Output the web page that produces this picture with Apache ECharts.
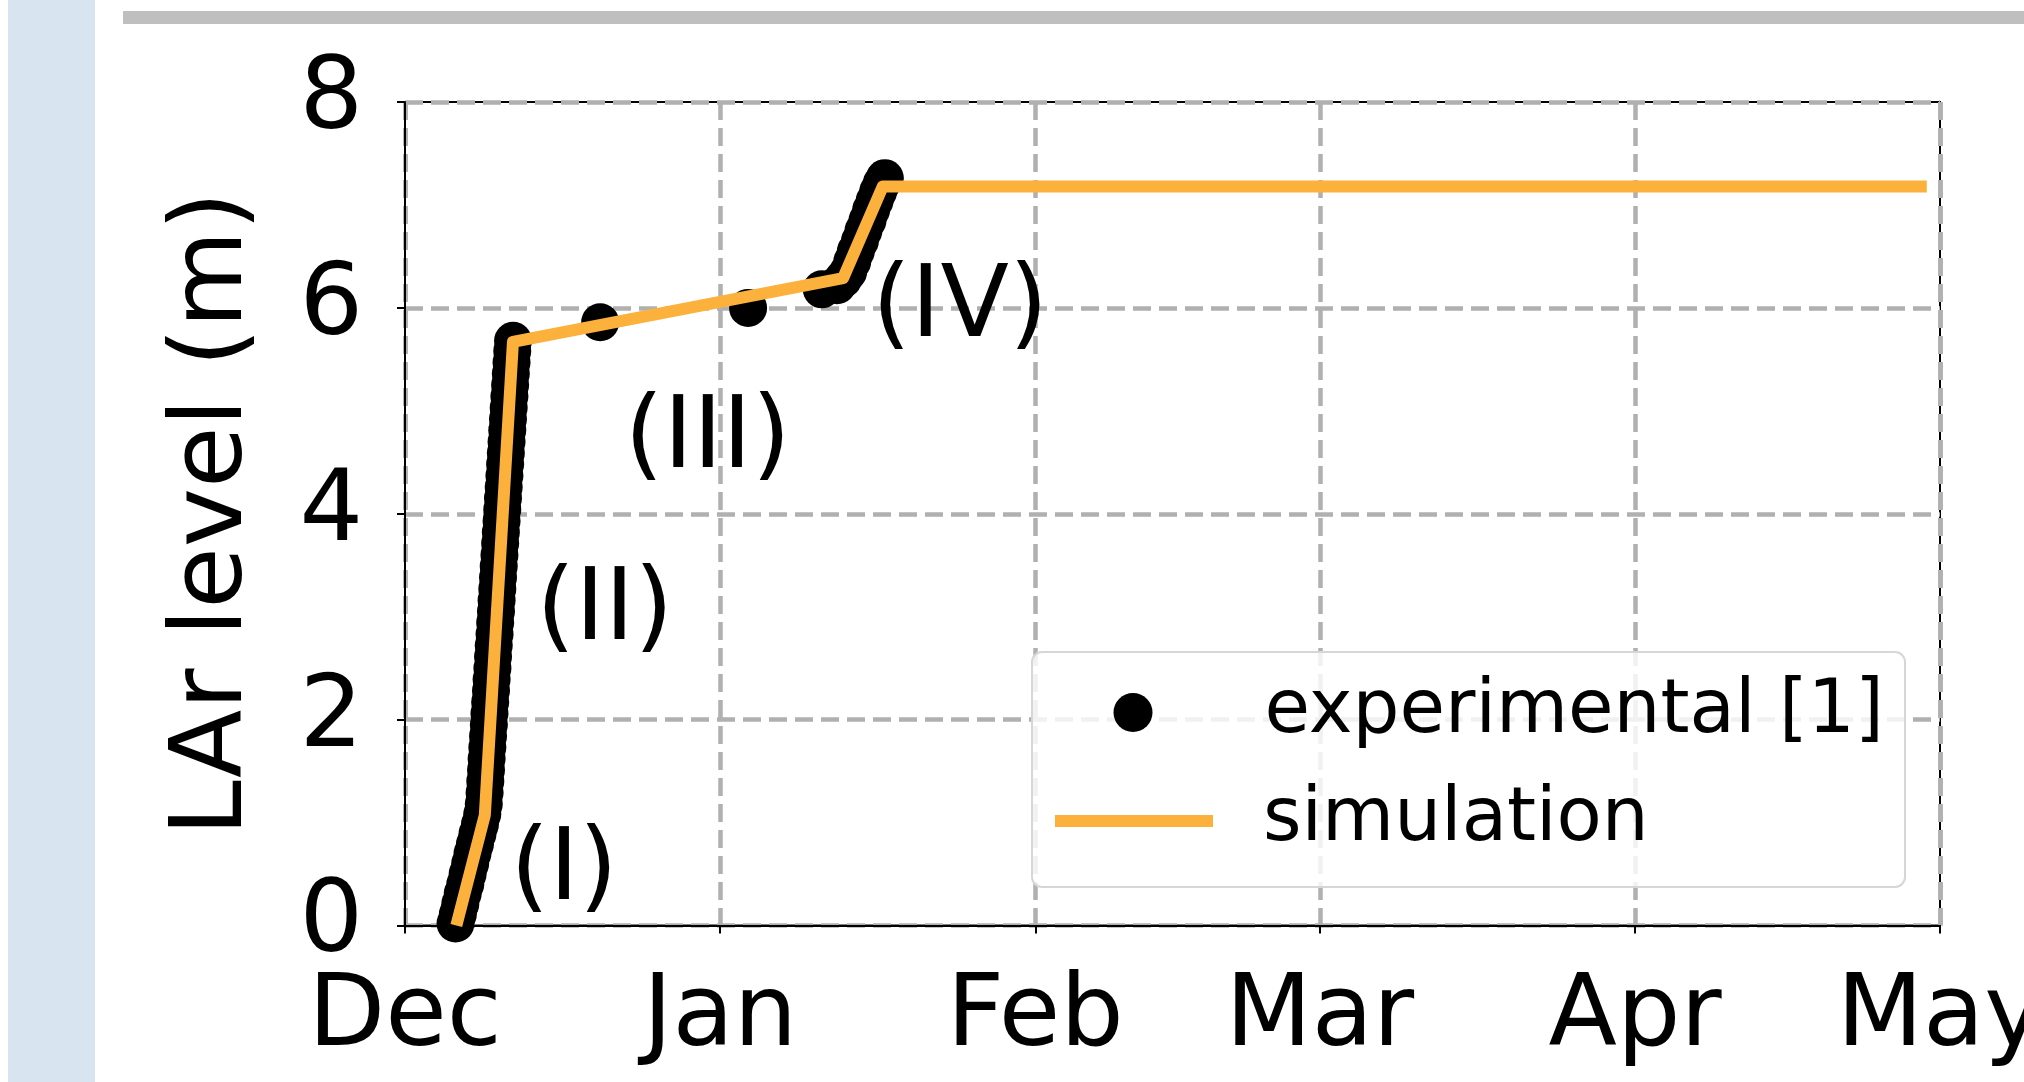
<!DOCTYPE html>
<html>
<head>
<meta charset="utf-8">
<script src="https://cdn.jsdelivr.net/npm/echarts@6/dist/echarts.min.js"></script>
<style>
  html, body { margin: 0; padding: 0; background: #ffffff; }
  #chart { width: 2024px; height: 1082px; }
</style>
</head>
<body>
<div id="chart"></div>
<script>
// ---- data (days counted from Dec 1; levels in m) ----
const startDate = [2018, 11, 1];
const endDay = 151; // May 1
const monthLabels = ['Jan','Feb','Mar','Apr','May','Jun','Jul','Aug','Sep','Oct','Nov','Dec'];

const expDays = [
  4.97, 5.20, 5.44, 5.68, 5.93, 6.16, 6.41, 6.64, 6.88, 7.13, 7.37, 7.60,
  7.75, 7.83, 7.90, 7.97, 8.03, 8.10, 8.17, 8.25, 8.31, 8.38, 8.46, 8.52,
  8.60, 8.66, 8.73, 8.81, 8.87, 8.95, 9.01, 9.08, 9.15, 9.22, 9.29, 9.36,
  9.43, 9.50, 9.57, 9.64, 9.71, 9.78, 9.85, 9.92, 9.99, 10.06, 10.13, 10.20,
  10.27, 10.34, 10.41, 10.48, 10.55, 10.63,
  19.2, 33.75, 41.0,
  42.5, 43.1, 43.6, 44.0, 44.35, 44.75, 45.1, 45.5, 45.85, 46.2, 46.55, 46.9, 47.2
];
const expLevel = [
  0.02, 0.11, 0.21, 0.31, 0.40, 0.50, 0.60, 0.70, 0.79, 0.89, 0.98, 1.08,
  1.18, 1.29, 1.40, 1.51, 1.62, 1.73, 1.84, 1.95, 2.06, 2.17, 2.28, 2.39,
  2.50, 2.61, 2.72, 2.83, 2.94, 3.05, 3.16, 3.27, 3.38, 3.49, 3.60, 3.71,
  3.82, 3.93, 4.04, 4.15, 4.26, 4.37, 4.48, 4.59, 4.70, 4.81, 4.92, 5.03,
  5.14, 5.25, 5.36, 5.47, 5.58, 5.68,
  5.86, 6.00, 6.18,
  6.22, 6.28, 6.35, 6.45, 6.55, 6.65, 6.75, 6.85, 6.95, 7.04, 7.13, 7.21, 7.26
];

const simDays  = [5.05, 7.85, 10.62, 43.1, 47.0, 149.7];
const simLevel = [0.0, 1.07, 5.67, 6.29, 7.18, 7.18];

const annoText  = ['(I)', '(II)', '(III)', '(IV)'];
const annoDays  = [15.65, 19.64, 29.77, 54.6];
const annoLevel = [0.51, 3.04, 4.71, 5.98];

const yTicks = [0, 2, 4, 6, 8];

// ---- build ----
const t0 = new Date(startDate[0], startDate[1], startDate[2]).getTime();
const DAY = 86400000;
const toT = d => t0 + d * DAY;

const expData  = expDays.map((d, i) => [toT(d), expLevel[i]]);
const simData  = simDays.map((d, i) => [toT(d), simLevel[i]]);
const annoData = annoDays.map((d, i) => ({ value: [toT(d), annoLevel[i]], name: annoText[i] }));

const FONT = 'DejaVu Sans';
const ORANGE = '#fbb13b';
const chart = echarts.init(document.getElementById('chart'), null, { renderer: 'canvas' });

chart.setOption({
  backgroundColor: '#ffffff',
  animation: false,
  graphic: [
    { type: 'rect', shape: { x: 8, y: 0, width: 87, height: 1082 }, style: { fill: '#d8e4ef' }, z: -10 },
    { type: 'rect', shape: { x: 123, y: 11, width: 1901, height: 13 }, style: { fill: '#bfbfbf' }, z: -10 },
    { type: 'rect', shape: { x: 1032, y: 652, width: 873, height: 235, r: 10 },
      style: { fill: 'rgba(255,255,255,0.82)', stroke: '#d6d6d6', lineWidth: 2 }, z: 15 }
  ],
  grid: {
    left: 405, top: 102, width: 1535, height: 823.5,
    outerBoundsMode: 'none', containLabel: false,
    show: true, borderColor: '#000000', borderWidth: 2, backgroundColor: 'transparent'
  },
  xAxis: {
    type: 'time',
    min: toT(0), max: toT(endDay),
    axisLine: { show: true, lineStyle: { color: '#000', width: 2 } },
    axisTick: { show: true, inside: false, length: 8, lineStyle: { color: '#000', width: 2 } },
    minorTick: { show: false },
    axisLabel: {
      show: true, margin: 44, fontSize: 100, fontFamily: FONT, color: '#000',
      hideOverlap: false, showMinLabel: true, showMaxLabel: true,
      formatter: v => monthLabels[new Date(v).getMonth()]
    },
    splitLine: { show: true, lineStyle: { color: '#b0b0b0', width: 4.5, type: [18, 8] } }
  },
  yAxis: {
    type: 'value', min: 0, max: 8, interval: 2,
    name: 'LAr level (m)', nameLocation: 'middle', nameGap: 140, nameRotate: 90,
    nameTextStyle: { fontSize: 100, fontFamily: FONT, color: '#000' },
    axisLine: { show: true, lineStyle: { color: '#000', width: 2 } },
    axisTick: { show: true, inside: false, length: 8, lineStyle: { color: '#000', width: 2 } },
    axisLabel: {
      margin: 42, fontSize: 100, fontFamily: FONT, color: '#000',
      formatter: v => (yTicks.indexOf(v) >= 0 ? String(v) : '')
    },
    splitLine: { show: true, lineStyle: { color: '#b0b0b0', width: 4.5, type: [18, 8] } }
  },
  legend: [
    {
      orient: 'vertical', left: 1113.5, top: 672.5, z: 20,
      itemWidth: 39, itemHeight: 39, padding: 0,
      selectedMode: false,
      textStyle: { fontSize: 74, fontFamily: FONT, color: '#000', lineHeight: 80, padding: [0, 0, 0, 107] },
      data: [{ name: 'experimental [1]', icon: 'circle' }]
    },
    {
      orient: 'vertical', left: 1055, top: 781, z: 20,
      itemWidth: 158, itemHeight: 12, padding: 0,
      selectedMode: false,
      textStyle: { fontSize: 74, fontFamily: FONT, color: '#000', lineHeight: 80, padding: [0, 0, 0, 45] },
      data: [{ name: 'simulation', icon: 'rect', itemStyle: { color: ORANGE } }]
    }
  ],
  series: [
    {
      name: 'experimental [1]', type: 'scatter', data: expData,
      symbol: 'circle', symbolSize: 38,
      itemStyle: { color: '#000000', opacity: 1 },
      z: 3
    },
    {
      name: 'simulation', type: 'line', data: simData,
      showSymbol: false, symbol: 'none',
      lineStyle: { color: ORANGE, width: 12, join: 'round', cap: 'butt' },
      itemStyle: { color: ORANGE },
      z: 4
    },
    {
      name: 'annotations', type: 'scatter', data: annoData,
      symbolSize: 0.1, silent: true,
      itemStyle: { color: '#000', opacity: 1 },
      label: {
        show: true, position: 'inside', formatter: p => p.name,
        fontSize: 100, fontFamily: FONT, color: '#000', opacity: 1,
        textBorderWidth: 0
      },
      emphasis: { disabled: true },
      z: 5
    }
  ]
});
</script>
</body>
</html>
